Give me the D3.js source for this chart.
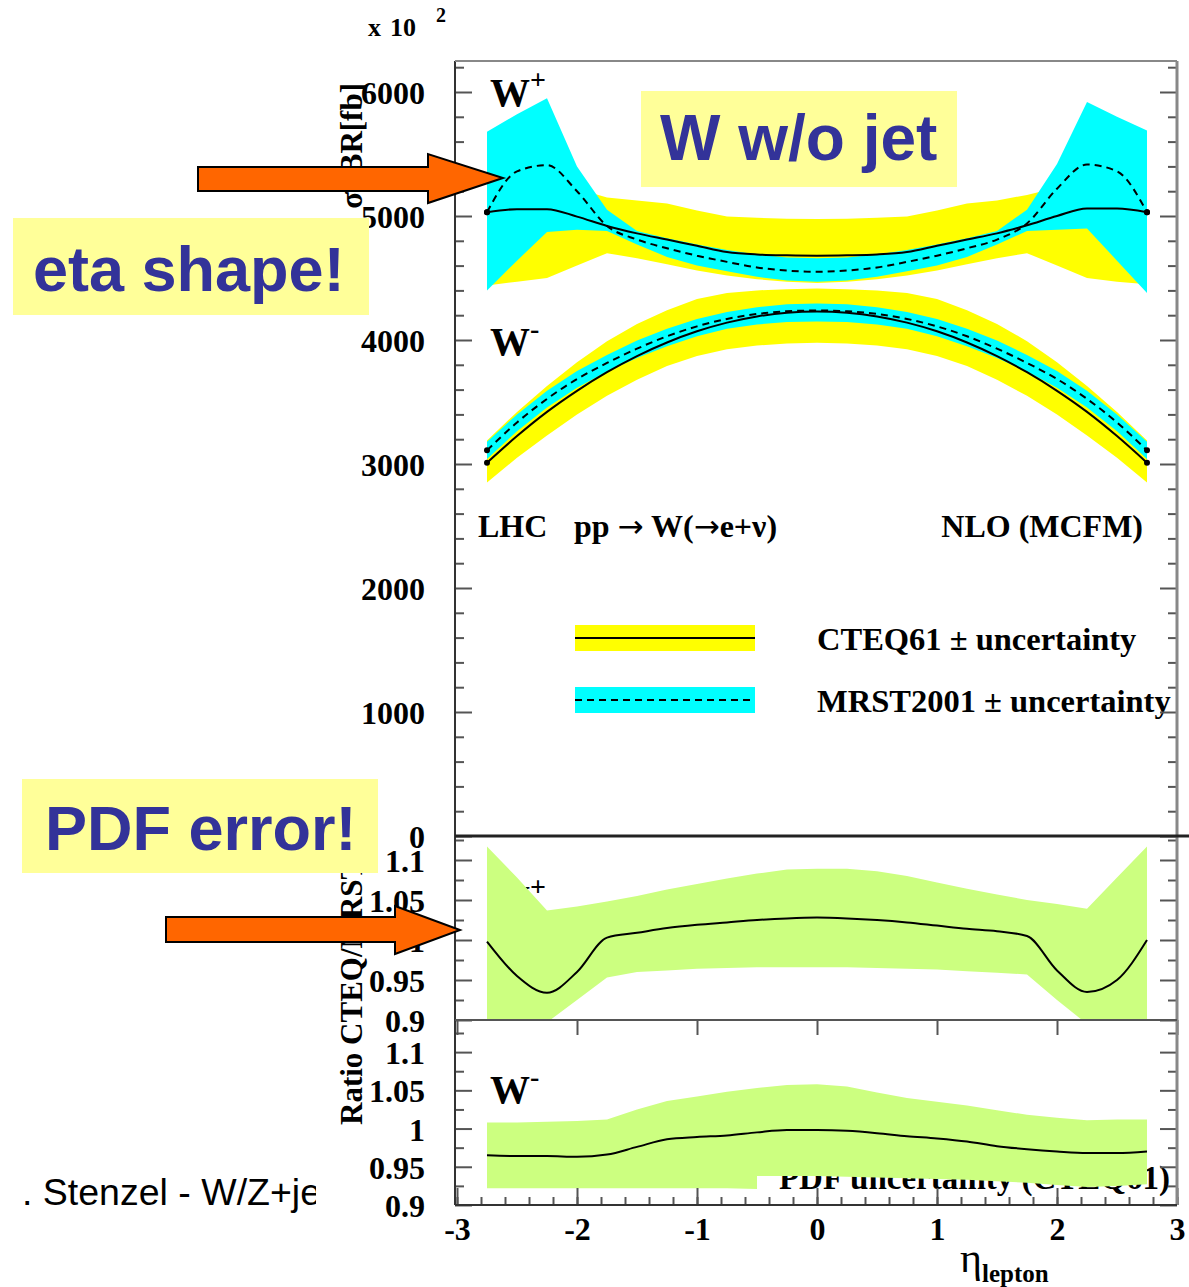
<!DOCTYPE html>
<html>
<head>
<meta charset="utf-8">
<script src="https://cdn.jsdelivr.net/npm/d3@7"></script>
<style>
  body { margin: 0; background: #fff; }
  svg { display: block; }
  .ax text { font-family: "Liberation Serif", serif; font-weight: bold; font-size: 32px; fill: #000; }
  .ax line { stroke: #555; stroke-width: 2; }
  .serif { font-family: "Liberation Serif", serif; font-weight: bold; fill: #000; }
  .note { font-family: "Liberation Sans", Arial, sans-serif; font-weight: bold; fill: #333399; }
</style>
</head>
<body>
<div id="chart"></div>
<script>
// pseudorapidity bins
const eta = [-2.75, -2.5, -2.25, -2.0, -1.75, -1.5, -1.25, -1.0, -0.75, -0.5, -0.25, 0,
             0.25, 0.5, 0.75, 1.0, 1.25, 1.5, 1.75, 2.0, 2.25, 2.5, 2.75];

// W+ cross section (fb / 100)
const wpCteq   = [5030, 5055, 5055, 4995, 4920, 4860, 4810, 4760, 4710, 4690, 4683, 4680,
                  4683, 4690, 4710, 4760, 4810, 4860, 4925, 5000, 5060, 5060, 5030];
const wpCteqHi = [5350, 5330, 5300, 5220, 5150, 5125, 5100, 5045, 4995, 4985, 4978, 4975,
                  4978, 4985, 4995, 5045, 5100, 5125, 5170, 5230, 5300, 5330, 5350];
const wpCteqLo = [4440, 4470, 4500, 4600, 4700, 4660, 4610, 4560, 4520, 4490, 4470, 4460,
                  4470, 4490, 4520, 4560, 4610, 4660, 4700, 4600, 4500, 4470, 4450];
const wpMrst   = [5030, 5360, 5410, 5200, 4920, 4810, 4740, 4680, 4630, 4585, 4560, 4550,
                  4560, 4585, 4630, 4680, 4740, 4810, 4940, 5220, 5415, 5360, 5030];
const wpMrstHi = [5680, 5820, 5950, 5400, 5050, 4880, 4820, 4770, 4725, 4690, 4665, 4660,
                  4665, 4690, 4725, 4770, 4820, 4880, 5050, 5420, 5920, 5800, 5690];
const wpMrstLo = [4400, 4640, 4870, 4890, 4880, 4770, 4670, 4600, 4555, 4510, 4480, 4470,
                  4480, 4510, 4555, 4600, 4670, 4770, 4880, 4890, 4900, 4640, 4380];

// W- cross section (fb / 100)
const wmCteq   = [3010, 3225, 3420, 3590, 3740, 3870, 3980, 4070, 4140, 4190, 4220, 4230,
                  4220, 4190, 4140, 4070, 3980, 3870, 3740, 3590, 3420, 3225, 3010];
const wmCteqHi = [3190, 3420, 3630, 3820, 3990, 4130, 4240, 4330, 4380, 4400, 4410, 4415,
                  4410, 4400, 4380, 4330, 4240, 4130, 3990, 3820, 3630, 3420, 3190];
const wmCteqLo = [2850, 3050, 3230, 3400, 3550, 3680, 3790, 3870, 3925, 3955, 3972, 3978,
                  3972, 3955, 3925, 3870, 3790, 3680, 3550, 3400, 3230, 3050, 2850];
const wmMrst   = [3110, 3335, 3525, 3685, 3815, 3930, 4030, 4110, 4170, 4210, 4232, 4238,
                  4232, 4210, 4170, 4110, 4030, 3930, 3815, 3685, 3525, 3335, 3110];
const wmMrstHi = [3180, 3400, 3590, 3750, 3880, 3995, 4090, 4170, 4225, 4265, 4288, 4295,
                  4288, 4265, 4225, 4170, 4090, 3995, 3880, 3750, 3590, 3400, 3180];
const wmMrstLo = [3040, 3265, 3455, 3615, 3745, 3855, 3950, 4030, 4090, 4125, 4145, 4150,
                  4145, 4125, 4090, 4030, 3950, 3855, 3745, 3615, 3455, 3265, 3040];

// ratio CTEQ/MRST, W+
const rpRatio = [0.998, 0.955, 0.934, 0.960, 1.003, 1.009, 1.015, 1.019, 1.022, 1.025, 1.027, 1.028,
                 1.027, 1.025, 1.022, 1.018, 1.014, 1.011, 1.005, 0.962, 0.935, 0.950, 1.000];
const rpHi    = [1.117, 1.078, 1.037, 1.042, 1.048, 1.055, 1.063, 1.070, 1.077, 1.083, 1.088, 1.089,
                 1.089, 1.086, 1.080, 1.072, 1.064, 1.057, 1.050, 1.045, 1.039, 1.078, 1.117];
const rpLo    = [0.860, 0.860, 0.897, 0.925, 0.953, 0.960, 0.962, 0.964, 0.965, 0.966, 0.966, 0.966,
                 0.966, 0.965, 0.964, 0.963, 0.961, 0.959, 0.957, 0.925, 0.895, 0.860, 0.860];

// ratio CTEQ/MRST, W-
const rmRatio = [0.965, 0.964, 0.964, 0.963, 0.966, 0.976, 0.986, 0.989, 0.991, 0.995, 0.998, 0.998,
                 0.997, 0.994, 0.990, 0.987, 0.983, 0.977, 0.973, 0.970, 0.968, 0.968, 0.970];
const etaBandM = [-2.75, -2.5, -2.25, -2.0, -1.75, -1.5, -1.25, -1.0, -0.75, -0.5, -0.5, -0.25, 0,
                  0.25, 0.5, 0.75, 1.0, 1.25, 1.5, 1.75, 2.0, 2.25, 2.5, 2.75];
const rmHi    = [1.008, 1.008, 1.009, 1.010, 1.012, 1.025, 1.036, 1.042, 1.048, 1.053, 1.053, 1.057, 1.058,
                 1.055, 1.047, 1.040, 1.035, 1.030, 1.024, 1.018, 1.014, 1.011, 1.012, 1.012];
const rmLo    = [0.922, 0.922, 0.922, 0.922, 0.922, 0.922, 0.922, 0.922, 0.922, 0.921, 0.938, 0.938, 0.938,
                 0.937, 0.936, 0.935, 0.934, 0.933, 0.931, 0.929, 0.926, 0.9235, 0.925, 0.927];

// tick values
const mainTicks = [0, 1000, 2000, 3000, 4000, 5000, 6000];
const mainMinor = d3.range(200, 6201, 200).filter(v => v % 1000 !== 0);
const ratioTicks = [0.9, 0.95, 1, 1.05, 1.1];
const ratioMinor = [0.925, 0.975, 1.025, 1.075, 1.125];
const etaTicks = [-3, -2, -1, 0, 1, 2, 3];
const etaMinor = d3.range(-3, 3.001, 0.2).map(v => +v.toFixed(1));

const W = 1189, H = 1287;
const L = 455, R = 1177;

const svg = d3.select("#chart").append("svg")
    .attr("width", W)
    .attr("height", H);

// scales
const x = d3.scaleLinear().domain([-3, 3]).range([457, 1177]);
const yMain = d3.scaleLinear().domain([0, 6250]).range([836, 61]);
const yR1 = d3.scaleLinear().domain([0.9, 1.13]).range([1020, 836]);
const yR2 = d3.scaleLinear().domain([0.9, 1.142]).range([1205, 1020]);

// clip areas for the three pads
const defs = svg.append("defs");
[["cMain", 61, 836], ["cR1", 836, 1020], ["cR2", 1020, 1205]].forEach(([id, t, b]) => {
    defs.append("clipPath").attr("id", id)
        .append("rect").attr("x", L).attr("y", t).attr("width", R - L).attr("height", b - t);
});
defs.append("clipPath").attr("id", "cFoot")
    .append("rect").attr("x", 0).attr("y", 1150).attr("width", 316).attr("height", 100);

// axis titles (drawn first, annotations overlap them)
svg.append("text").attr("class", "serif")
    .attr("transform", "translate(362,83) rotate(-90)")
    .attr("text-anchor", "end")
    .style("font-size", "31px")
    .text("σ×BR[fb]");

svg.append("text").attr("class", "serif")
    .attr("transform", "translate(362,1125) rotate(-90)")
    .attr("text-anchor", "start")
    .style("font-size", "31px")
    .text("Ratio CTEQ/MRST");

// helpers
const band = (xs, lo, hi, ys) => d3.area()
    .x((d, i) => x(xs[i]))
    .y0((d, i) => ys(lo[i]))
    .y1((d, i) => ys(hi[i]))(xs);
const curve = (vals, ys) => d3.line()
    .curve(d3.curveMonotoneX)
    .x((d, i) => x(eta[i]))
    .y((d, i) => ys(vals[i]))(eta);

// main pad
const gMain = svg.append("g").attr("clip-path", "url(#cMain)");
gMain.append("path").attr("d", band(eta, wpCteqLo, wpCteqHi, yMain)).attr("fill", "#ffff00");
gMain.append("path").attr("d", band(eta, wmCteqLo, wmCteqHi, yMain)).attr("fill", "#ffff00");
gMain.append("path").attr("d", band(eta, wpMrstLo, wpMrstHi, yMain)).attr("fill", "#00ffff");
gMain.append("path").attr("d", band(eta, wmMrstLo, wmMrstHi, yMain)).attr("fill", "#00ffff");

[[wpCteq, null], [wmCteq, null], [wpMrst, "7,5"], [wmMrst, "7,5"]].forEach(([vals, dash]) => {
    gMain.append("path")
        .attr("d", curve(vals, yMain))
        .attr("fill", "none")
        .attr("stroke", "#000")
        .attr("stroke-width", 2)
        .attr("stroke-dasharray", dash);
    gMain.selectAll(null)
        .data([0, eta.length - 1])
        .enter().append("circle")
        .attr("cx", i => x(eta[i]))
        .attr("cy", i => yMain(vals[i]))
        .attr("r", 3)
        .attr("fill", "#000");
});

// W labels
const wLabel = (g, px, py, sup) => {
    const t = g.append("text").attr("class", "serif").attr("x", px).attr("y", py).style("font-size", "40px");
    t.append("tspan").text("W");
    t.append("tspan").attr("dy", -17).style("font-size", "28px").text(sup);
};
wLabel(svg, 490, 106, "+");
wLabel(svg, 490, 355, "-");

svg.append("text").attr("class", "serif").attr("x", 478).attr("y", 537).style("font-size", "32px")
    .text("LHC");
const proc = svg.append("text").attr("class", "serif").attr("x", 574).attr("y", 537).style("font-size", "32px");
proc.append("tspan").text("pp ");
proc.append("tspan").style("font-family", "DejaVu Sans").style("font-weight", "normal").style("font-size", "31px").text("→");
proc.append("tspan").text(" W(");
proc.append("tspan").style("font-family", "DejaVu Sans").style("font-weight", "normal").style("font-size", "31px").text("→");
proc.append("tspan").text("e+ν)");
svg.append("text").attr("class", "serif").attr("x", 1143).attr("y", 537).attr("text-anchor", "end")
    .style("font-size", "32px").text("NLO (MCFM)");

// legend
const legend = [
    {fill: "#ffff00", dash: null, label: "CTEQ61 ± uncertainty", y: 638},
    {fill: "#00ffff", dash: "7,5", label: "MRST2001 ± uncertainty", y: 700}
];
legend.forEach(d => {
    svg.append("rect").attr("x", 575).attr("y", d.y - 13).attr("width", 180).attr("height", 26).attr("fill", d.fill);
    svg.append("line").attr("x1", 575).attr("x2", 755).attr("y1", d.y).attr("y2", d.y)
        .attr("stroke", "#000").attr("stroke-width", 2).attr("stroke-dasharray", d.dash);
    svg.append("text").attr("class", "serif").attr("x", 817).attr("y", d.y + 12)
        .style("font-size", "32.5px").text(d.label);
});

// ratio pad W+
wLabel(svg, 490, 913, "+");
const gR1 = svg.append("g").attr("clip-path", "url(#cR1)");
gR1.append("path").attr("d", band(eta, rpLo, rpHi, yR1)).attr("fill", "#ccff80");
gR1.append("path").attr("d", curve(rpRatio, yR1))
    .attr("fill", "none").attr("stroke", "#000").attr("stroke-width", 2);

// ratio pad W-
wLabel(svg, 490, 1103, "-");
svg.append("text").attr("class", "serif").attr("x", 1170).attr("y", 1189).attr("text-anchor", "end")
    .style("font-size", "33px").text("PDF uncertainty (CTEQ61)");
const gR2 = svg.append("g").attr("clip-path", "url(#cR2)");
gR2.append("path").attr("d", band(etaBandM, rmLo, rmHi, yR2)).attr("fill", "#ccff80");
gR2.append("path").attr("d", curve(rmRatio, yR2))
    .attr("fill", "none").attr("stroke", "#000").attr("stroke-width", 2);

// y axes: labels on the left, ticks inside, mirrored on the right
const yAxes = (ys, major, minor, fmt) => {
    const gl = svg.append("g").attr("class", "ax").attr("transform", `translate(${L},0)`);
    gl.call(d3.axisLeft(ys).tickValues(major).tickSizeInner(-17).tickSizeOuter(0).tickPadding(30).tickFormat(fmt));
    gl.call(g => g.select(".domain").remove());
    gl.selectAll("text").attr("dy", "0.36em");
    const gm = svg.append("g").attr("class", "ax").attr("transform", `translate(${L},0)`);
    gm.call(d3.axisLeft(ys).tickValues(minor).tickSize(-9).tickFormat(""));
    gm.call(g => g.select(".domain").remove());
    const gr = svg.append("g").attr("class", "ax").attr("transform", `translate(${R},0)`);
    gr.call(d3.axisRight(ys).tickValues(major).tickSize(-17).tickFormat(""));
    gr.call(g => g.select(".domain").remove());
    const grm = svg.append("g").attr("class", "ax").attr("transform", `translate(${R},0)`);
    grm.call(d3.axisRight(ys).tickValues(minor).tickSize(-9).tickFormat(""));
    grm.call(g => g.select(".domain").remove());
};
yAxes(yMain, mainTicks, mainMinor, d => String(d));
yAxes(yR1, ratioTicks, ratioMinor, d => String(d));
yAxes(yR2, ratioTicks, ratioMinor, d => String(d));

// x axes on the ratio pads
const xMid = svg.append("g").attr("class", "ax").attr("transform", "translate(0,1020)");
xMid.call(d3.axisBottom(x).tickValues(etaMinor).tickSize(7).tickFormat(""));
xMid.call(d3.axisBottom(x).tickValues(etaTicks).tickSize(15).tickFormat(""));
xMid.selectAll(".domain").remove();

const xBot = svg.append("g").attr("class", "ax").attr("transform", "translate(0,1205)");
xBot.call(d3.axisBottom(x).tickValues(etaMinor).tickSize(-8).tickFormat(""));
xBot.selectAll(".domain").remove();
const xBotL = svg.append("g").attr("class", "ax").attr("transform", "translate(0,1205)");
xBotL.call(d3.axisBottom(x).tickValues(etaTicks).tickSizeInner(-17).tickSizeOuter(0).tickPadding(12).tickFormat(d => String(d)));
xBotL.selectAll(".domain").remove();

const xt = svg.append("text").attr("class", "serif").attr("x", 960).attr("y", 1272)
    .style("font-weight", "normal").style("font-size", "42px");
xt.append("tspan").text("η");
xt.append("tspan").attr("dy", 10).style("font-weight", "bold").style("font-size", "25px").text("lepton");

// frame
const frame = [
    [L, 61, L, 1205, "#333", 2],
    [L, 61, R, 61, "#888", 2],
    [R, 61, R, 1205, "#888", 3],
    [L, 836, W, 836, "#222", 3],
    [L, 1020, R, 1020, "#555", 2],
    [L, 1205, R, 1205, "#333", 2]
];
frame.forEach(([x1, y1, x2, y2, c, w]) => {
    svg.append("line").attr("x1", x1).attr("y1", y1).attr("x2", x2).attr("y2", y2)
        .attr("stroke", c).attr("stroke-width", w);
});

// exponent
const ex = svg.append("text").attr("class", "serif").attr("y", 36).style("font-size", "26px");
ex.append("tspan").attr("x", 368).text("x");
ex.append("tspan").attr("x", 390).text("10");
ex.append("tspan").attr("x", 436).attr("dy", -14).style("font-size", "20px").text("2");

// slide annotations
const notes = [
    {x: 641, y: 91, w: 316, h: 96, tx: 660, ty: 160, size: 64, text: "W w/o jet"},
    {x: 13, y: 218, w: 356, h: 97, tx: 33, ty: 291, size: 63, text: "eta shape!"},
    {x: 22, y: 779, w: 356, h: 94, tx: 45, ty: 850, size: 63, text: "PDF error!"}
];
notes.forEach(n => {
    svg.append("rect").attr("x", n.x).attr("y", n.y).attr("width", n.w).attr("height", n.h).attr("fill", "#ffff99");
    svg.append("text").attr("class", "note").attr("x", n.tx).attr("y", n.ty)
        .style("font-size", n.size + "px").text(n.text);
});

const arrows = [
    [[198, 167], [428, 167], [428, 154], [503, 178], [428, 203], [428, 191], [198, 191]],
    [[166, 917], [395, 917], [395, 906], [460, 930], [395, 954], [395, 942], [166, 942]]
];
arrows.forEach(pts => {
    svg.append("polygon")
        .attr("points", pts.map(p => p.join(",")).join(" "))
        .attr("fill", "#ff6600")
        .attr("stroke", "#000")
        .attr("stroke-width", 2);
});

svg.append("text")
    .attr("clip-path", "url(#cFoot)")
    .attr("x", 22).attr("y", 1205)
    .style("font-family", "Liberation Sans, Arial, sans-serif")
    .style("font-size", "37.5px")
    .attr("fill", "#000")
    .text(". Stenzel - W/Z+jets");
</script>
</body>
</html>
